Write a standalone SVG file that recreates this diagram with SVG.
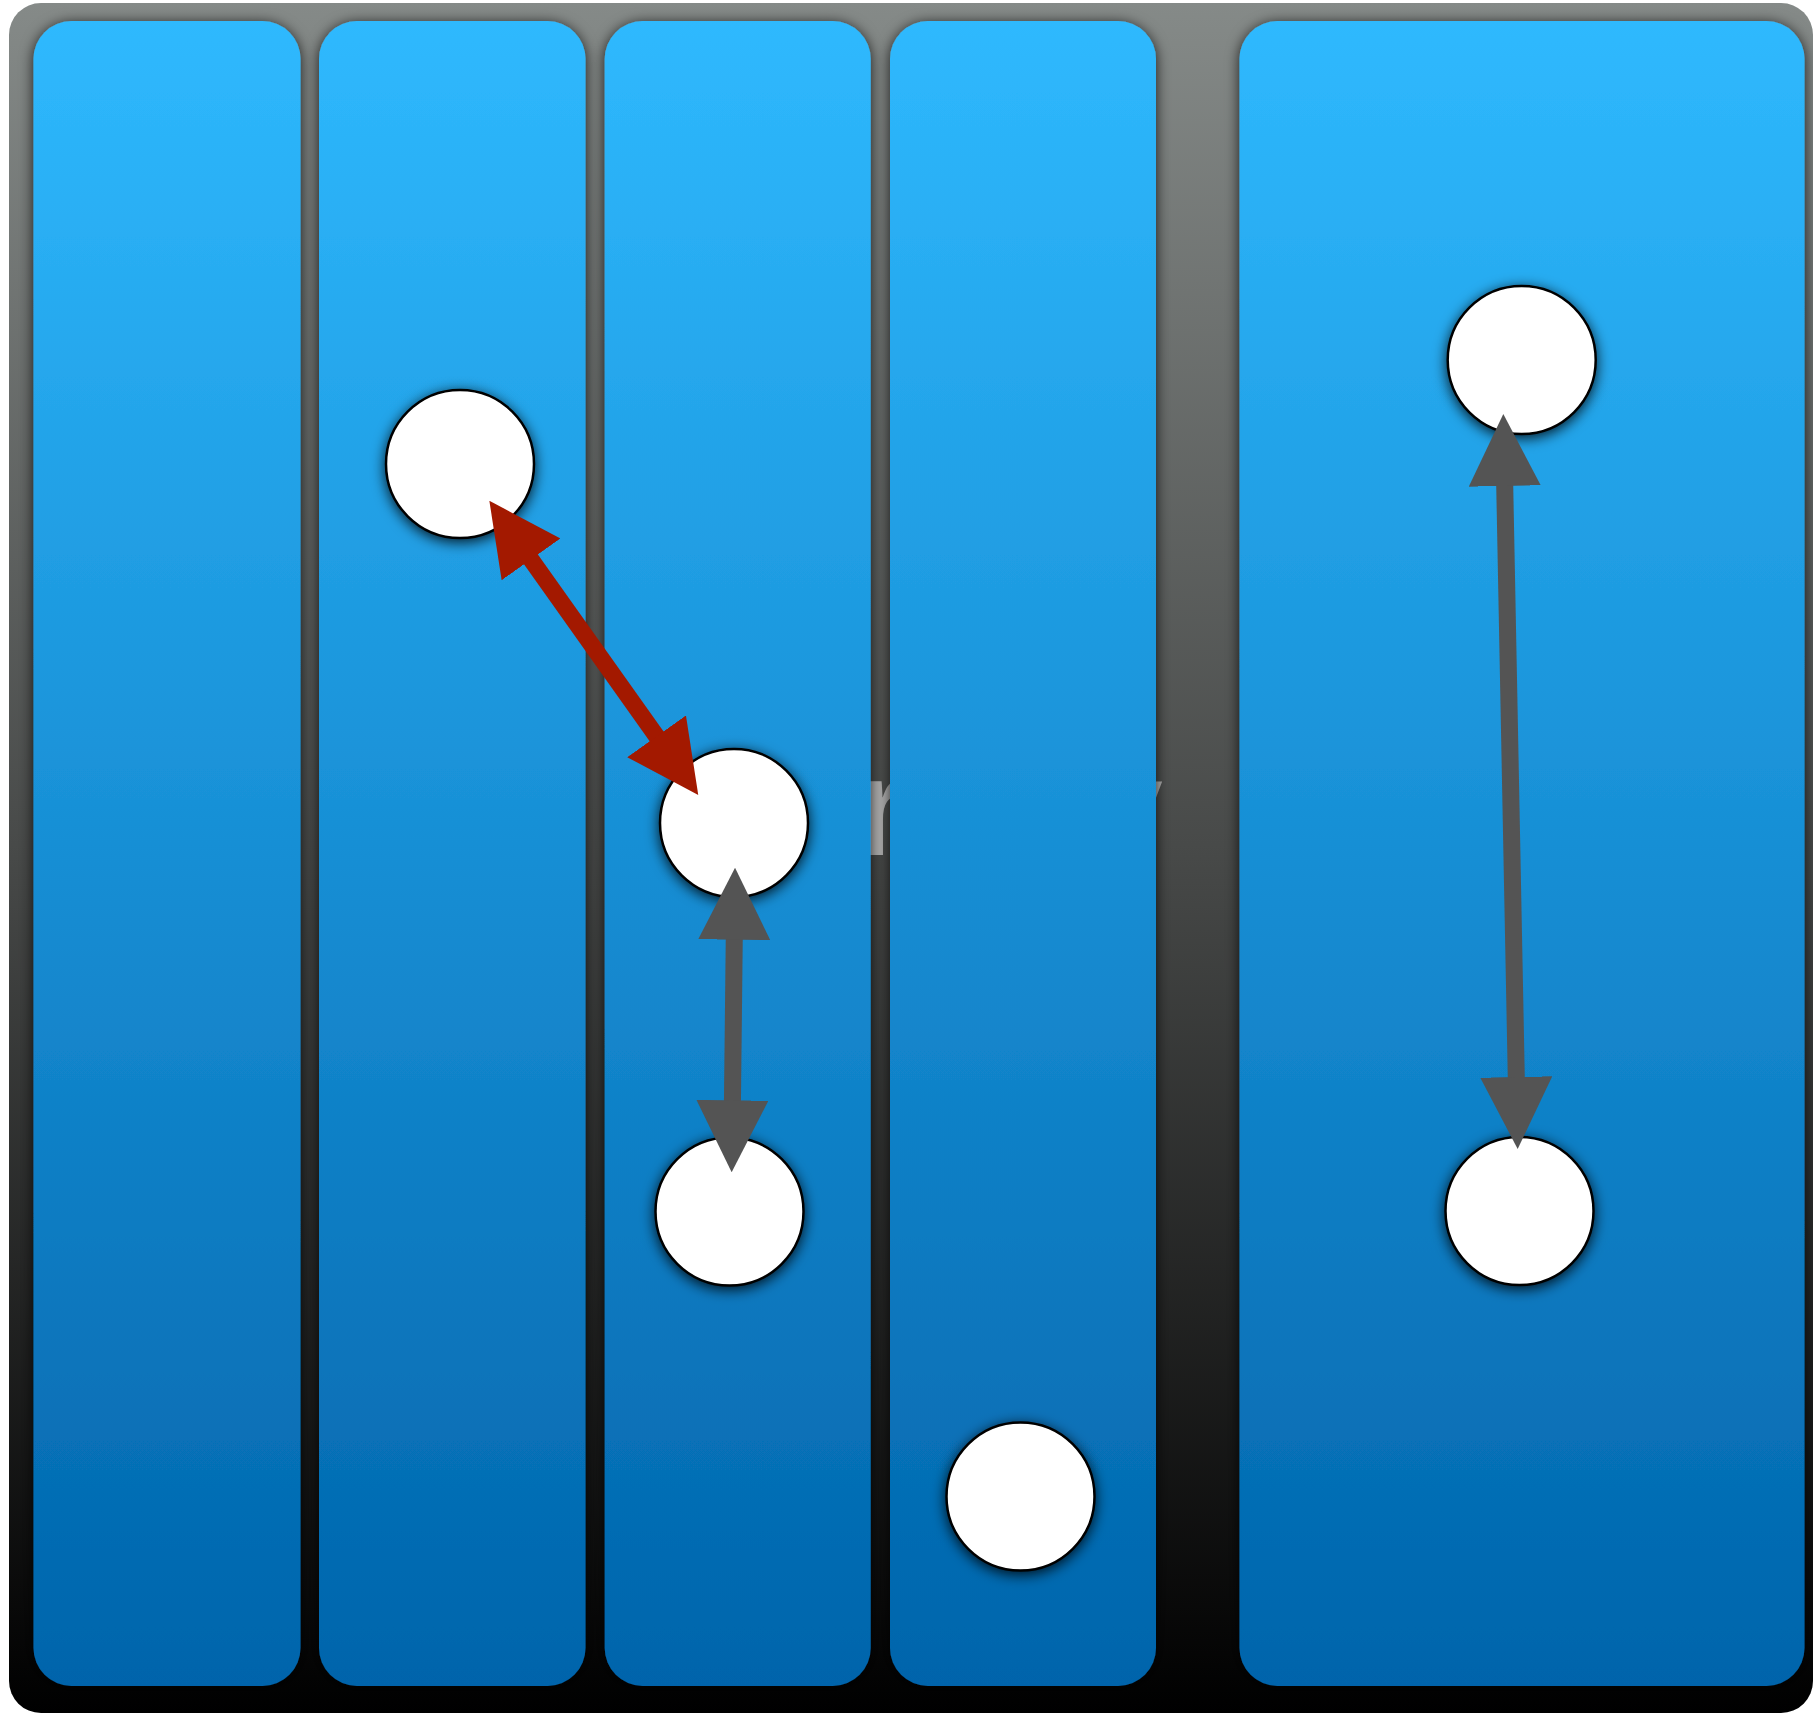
<svg xmlns="http://www.w3.org/2000/svg" width="1813" height="1713" viewBox="0 0 1813 1713">
  <style>
    .lane { fill: url(#laneGrad); filter: url(#laneShadow); }
    .node { fill: #ffffff; stroke: #000000; stroke-width: 2.5; filter: url(#nodeShadow); }
    .conn { fill: none; stroke-width: 17; stroke-linecap: butt; }
    .red { stroke: #a31900; marker-start: url(#headRed); marker-end: url(#headRed); }
    .gray { stroke: #545454; marker-start: url(#headGray); marker-end: url(#headGray); }
    .title { font-family: "Liberation Sans", Arial, sans-serif; font-weight: bold; font-size: 140px; fill: #b3b3b3; }
  </style>
  <defs>
    <linearGradient id="bgGrad" x1="0" y1="0" x2="0" y2="1">
      <stop offset="0" stop-color="#858a88"/>
      <stop offset="0.5" stop-color="#474948"/>
      <stop offset="1" stop-color="#000000"/>
    </linearGradient>
    <linearGradient id="laneGrad" x1="0" y1="0" x2="0" y2="1">
      <stop offset="0" stop-color="#2fb9fe"/>
      <stop offset="1" stop-color="#0064ab"/>
    </linearGradient>
    <filter id="laneShadow" x="-20%" y="-5%" width="140%" height="110%">
      <feDropShadow dx="0" dy="2" stdDeviation="7" flood-color="#000" flood-opacity="0.8"/>
    </filter>
    <filter id="nodeShadow" x="-30%" y="-30%" width="160%" height="160%">
      <feDropShadow dx="0" dy="3" stdDeviation="7" flood-color="#000" flood-opacity="0.85"/>
    </filter>
    <marker id="headRed" viewBox="0 0 72 72" markerWidth="72" markerHeight="72" markerUnits="userSpaceOnUse" refX="32" refY="36" orient="auto-start-reverse">
      <path d="M0,0 L72,36 L0,72 z" fill="#a31900"/>
    </marker>
    <marker id="headGray" viewBox="0 0 72 72" markerWidth="72" markerHeight="72" markerUnits="userSpaceOnUse" refX="32" refY="36" orient="auto-start-reverse">
      <path d="M0,0 L72,36 L0,72 z" fill="#545454"/>
    </marker>
  </defs>

  <rect id="background" x="9" y="3" width="1804" height="1710" rx="32" fill="url(#bgGrad)"/>

  <text class="title" y="855"><tspan x="612">L</tspan><tspan x="700">i</tspan><tspan x="742">b</tspan><tspan x="854">r</tspan><tspan x="923">a</tspan><tspan x="1016">r</tspan><tspan x="1085">y</tspan></text>

  <g id="lanes">
    <rect id="lane1" class="lane" x="33.5" y="21" width="267" height="1665" rx="38"/>
    <rect id="lane2" class="lane" x="319" y="21" width="266.5" height="1665" rx="38"/>
    <rect id="lane3" class="lane" x="604.7" y="21" width="266" height="1665" rx="38"/>
    <rect id="lane4" class="lane" x="890" y="21" width="266" height="1665" rx="38"/>
    <rect id="lane5" class="lane" x="1239.5" y="21" width="565" height="1665" rx="38"/>
  </g>

  <g id="n1"><circle class="node" cx="460" cy="464" r="74"/></g>
  <g id="n2"><circle class="node" cx="734" cy="823" r="74"/></g>
  <g id="n3"><circle class="node" cx="729.5" cy="1211.5" r="74"/></g>
  <g id="n4"><circle class="node" cx="1020.5" cy="1496.5" r="74"/></g>
  <g id="n5"><circle class="node" cx="1521.7" cy="360" r="74"/></g>
  <g id="n6"><circle class="node" cx="1519.5" cy="1211" r="74"/></g>

  <g id="connectors">
    <line class="conn red" x1="512.5" y1="533.3" x2="675.1" y2="762.4"/>
    <line class="conn gray" x1="734.6" y1="907.7" x2="732.1" y2="1132.3"/>
    <line class="conn gray" x1="1504.1" y1="454" x2="1516.9" y2="1109"/>
  </g>
</svg>
